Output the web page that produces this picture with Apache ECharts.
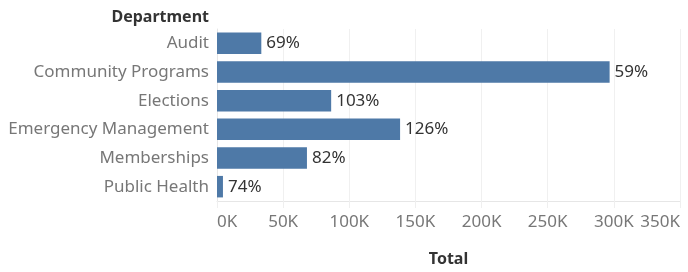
<!DOCTYPE html>
<html>
<head>
<meta charset="utf-8">
<script src="https://cdn.jsdelivr.net/npm/echarts@6/dist/echarts.min.js"></script>
<style>
  html, body { margin: 0; padding: 0; background: #fff; }
  #chart { width: 688px; height: 272px; }
</style>
</head>
<body>
<div id="chart"></div>
<script>
// 部门及数值
const departments = ['Audit', 'Community Programs', 'Elections', 'Emergency Management', 'Memberships', 'Public Health'];
const totals = [33500, 296800, 86300, 138400, 68000, 4500];
const pctLabels = ['69%', '59%', '103%', '126%', '82%', '74%'];

const FONT = 'Noto Sans';
const chart = echarts.init(document.getElementById('chart'));

const option = {
  animation: false,
  textStyle: { fontFamily: FONT },
  grid: { left: 217, right: 8, top: 29, bottom: 70, containLabel: false },
  graphic: [
    {
      type: 'text',
      right: 688 - 209,
      top: 9,
      style: { text: 'Department', font: 'bold 16px "Noto Sans"', fill: '#333', textAlign: 'right' }
    }
  ],
  xAxis: {
    type: 'value',
    min: 0,
    max: 350000,
    interval: 50000,
    name: 'Total',
    nameLocation: 'middle',
    nameGap: 50,
    nameTextStyle: { color: '#333', fontSize: 16, fontWeight: 'bold' },
    axisLine: { show: true, lineStyle: { color: '#e6e6e6' } },
    axisTick: { show: true, length: 7, lineStyle: { color: '#efefef' } },
    splitLine: { show: true, lineStyle: { color: '#f0f0f0' } },
    axisLabel: {
      color: '#777',
      fontSize: 17,
      margin: 13,
      alignMinLabel: 'left',
      alignMaxLabel: 'right',
      formatter: v => (v / 1000) + 'K'
    }
  },
  yAxis: {
    type: 'category',
    inverse: true,
    data: departments,
    axisLine: { show: true, lineStyle: { color: '#e6e6e6' } },
    axisTick: { show: false },
    axisLabel: { color: '#777', fontSize: 17, margin: 8 }
  },
  series: [
    {
      type: 'bar',
      data: totals,
      barCategoryGap: '25%',
      itemStyle: { color: '#4e79a7' },
      label: {
        show: true,
        position: 'right',
        distance: 5,
        color: '#333',
        fontSize: 17,
        formatter: p => pctLabels[p.dataIndex]
      }
    }
  ]
};

chart.setOption(option);
</script>
</body>
</html>
